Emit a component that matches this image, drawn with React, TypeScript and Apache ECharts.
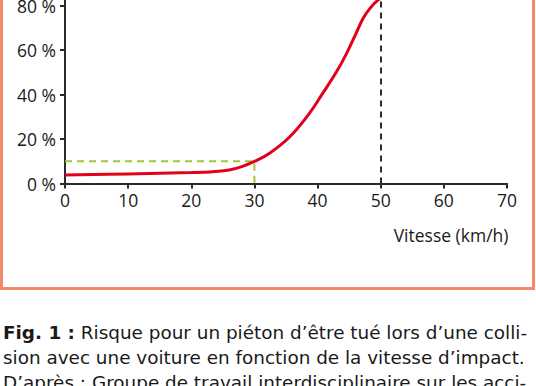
import React, { useEffect, useRef } from "react";
import * as echarts from "echarts";

const speeds = [0, 10, 20, 23, 26, 28, 30, 32.4, 35.6, 38.7, 40.8, 43, 44.6, 46.1, 47.2, 48.3, 49.6, 51, 52];
const risk = [3.8, 4.3, 4.9, 5.2, 6.1, 7.6, 9.9, 13.6, 21, 31.5, 40.5, 50.2, 58.5, 67.5, 74.2, 78.7, 82.5, 85, 86.5];
const refSpeed = [0, 30, 30];
const refRisk = [10, 10, 0];
const limitSpeed = 50;
const xTicks = [0, 10, 20, 30, 40, 50, 60, 70];
const yTicks = [0, 20, 40, 60, 80, 100];
const xName = "Vitesse (km/h)";
const captionBold = "Fig. 1 :";
const captionLines = [
  " Risque pour un piéton d’être tué lors d’une colli-",
  "sion avec une voiture en fonction de la vitesse d’impact.",
  "D’après : Groupe de travail interdisciplinaire sur les acci-",
];

const FONT = "'Open Sans', 'Noto Sans', sans-serif";
const CAP_FONT = "'DejaVu Sans', sans-serif";
const SHIFT = 45; // the reference is cropped at the top
const CAP = 18.4;

export default function App() {
  const ref = useRef<HTMLDivElement>(null);
  useEffect(() => {
    if (!ref.current) return;
    const chart = echarts.init(ref.current, null, { renderer: "svg" });
    chart.setOption({
      animation: false,
      backgroundColor: "#fff",
      textStyle: { fontFamily: FONT },
      grid: { left: 65, right: 29, top: 6, bottom: 202.5, containLabel: false },
      xAxis: {
        type: "value",
        min: xTicks[0],
        max: xTicks[xTicks.length - 1],
        interval: 10,
        splitLine: { show: false },
        axisLine: { lineStyle: { color: "#2a2a2a", width: 2 } },
        axisTick: { length: 5, lineStyle: { color: "#2a2a2a", width: 2 } },
        axisLabel: { color: "#1a1a1a", fontSize: 17.5, margin: 7, fontFamily: FONT },
      },
      yAxis: {
        type: "value",
        min: yTicks[0],
        max: yTicks[yTicks.length - 1],
        interval: 20,
        splitLine: { show: false },
        axisLine: { show: true, lineStyle: { color: "#2a2a2a", width: 2 } },
        axisTick: { show: true, length: 5, lineStyle: { color: "#2a2a2a", width: 2 } },
        axisLabel: {
          color: "#1a1a1a",
          fontSize: 17.5,
          margin: 9,
          fontFamily: FONT,
          formatter: (v: number) => (v >= 100 ? "" : v + " %"),
        },
      },
      series: [
        {
          type: "line",
          data: refSpeed.map((s, i) => [s, refRisk[i]]),
          symbol: "none",
          lineStyle: { color: "#9cc83a", width: 2, type: [7, 5] },
          z: 2,
        },
        {
          type: "line",
          data: speeds.map((s, i) => [s, risk[i]]),
          symbol: "none",
          smooth: 0.4,
          lineStyle: { color: "#e2001a", width: 3 },
          z: 3,
          markLine: {
            silent: true,
            symbol: "none",
            label: { show: false },
            lineStyle: { color: "#2a2a2a", width: 2, type: [6, 5] },
            data: [{ xAxis: limitSpeed }],
          },
        },
      ],
      graphic: [
        {
          type: "rect",
          shape: { x: 1.5, y: SHIFT - 15, width: 532, height: 303.5 },
          style: { fill: "none", stroke: "#f5896b", lineWidth: 3 },
          z: 10,
        },
        {
          type: "text",
          x: 508.5,
          y: SHIFT + 235,
          style: {
            text: xName,
            fontSize: 17.5,
            fontFamily: FONT,
            fill: "#1a1a1a",
            align: "right",
            verticalAlign: "middle",
          },
        },
        {
          type: "text",
          x: 3,
          y: SHIFT + 319.5,
          style: {
            text:
              "{b|" + captionBold + "}" + captionLines[0] + "\n" + captionLines[1] + "\n" + captionLines[2],
            fontSize: CAP,
            lineHeight: 25,
            fontFamily: CAP_FONT,
            fill: "#1a1a1a",
            verticalAlign: "top",
            rich: {
              b: { fontWeight: "bold", fontSize: CAP, lineHeight: 25, fontFamily: CAP_FONT, fill: "#1a1a1a" },
            },
          },
        },
      ],
    });
    return () => chart.dispose();
  }, []);
  return (
    <div
      ref={ref}
      style={{ position: "fixed", left: 0, top: -SHIFT, width: 536, height: 386 + SHIFT }}
    />
  );
}
